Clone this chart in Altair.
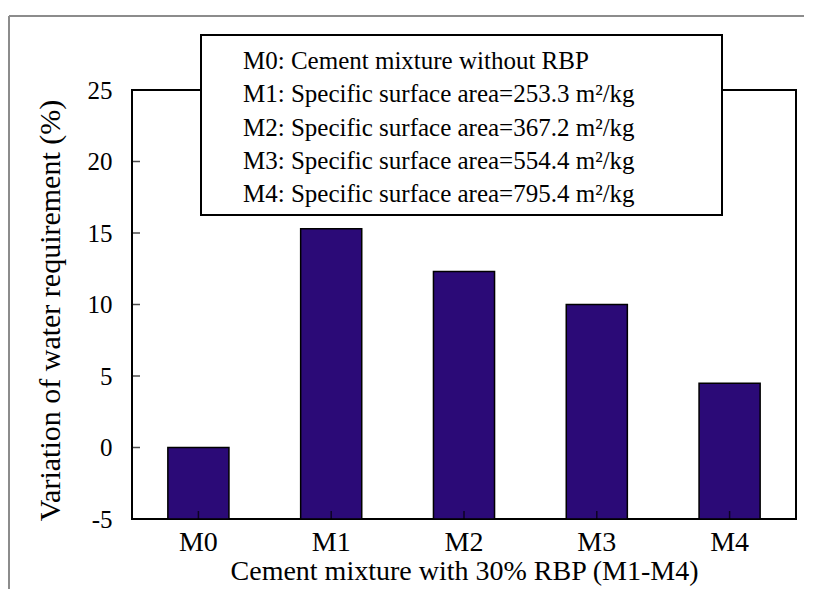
import altair as alt
import pandas as pd

categories = ["M0", "M1", "M2", "M3", "M4"]
values = [0.0, 15.3, 12.3, 10.0, 4.5]
baseline = -5
y_ticks = [-5, 0, 5, 10, 15, 20, 25]
legend_lines = [
    "M0: Cement mixture without RBP",
    "M1: Specific surface area=253.3 m\u00b2/kg",
    "M2: Specific surface area=367.2 m\u00b2/kg",
    "M3: Specific surface area=554.4 m\u00b2/kg",
    "M4: Specific surface area=795.4 m\u00b2/kg",
]
x_title = "Cement mixture with 30% RBP (M1-M4)"
y_title = "Variation of water requirement (%)"

W, H = 664, 429
FONT = "'Liberation Serif', 'Times New Roman', serif"

bars_df = pd.DataFrame({"mix": categories, "value": values, "base": [baseline] * len(categories)})
yt_df = pd.DataFrame({"t": y_ticks})
leg_df = pd.DataFrame({"row": list(range(len(legend_lines))), "line": legend_lines})
one = pd.DataFrame({"a": [0]})

xscale = alt.Scale(domain=categories, paddingInner=0.54, paddingOuter=0.27)
yscale = alt.Scale(domain=[-5, 25], nice=False, zero=False)

bars = alt.Chart(bars_df).mark_bar(color="#2b0a77", stroke="black", strokeWidth=1.5).encode(
    x=alt.X("mix:N", scale=xscale, sort=categories,
            axis=alt.Axis(title=x_title, labelAngle=0, labelPadding=9, titlePadding=1,
                          labelFontSize=28, titleFontSize=28)),
    y=alt.Y("value:Q", scale=yscale,
            axis=alt.Axis(values=y_ticks, title=y_title, labelPadding=20, titlePadding=22,
                          labelFontSize=25, titleFontSize=30, titleY=220,
                          labelExpr="'' + datum.value")),
    y2="base:Q",
)

xticks = alt.Chart(bars_df).mark_tick(orient="vertical", color="black", thickness=1.5, size=8).encode(
    x=alt.X("mix:N", scale=xscale, sort=categories),
    y=alt.value(H - 4),
)

yticks = alt.Chart(yt_df).mark_tick(orient="horizontal", color="black", thickness=1.5, size=8).encode(
    y=alt.Y("t:Q", scale=yscale, axis=None),
    x=alt.value(4),
)

box = alt.Chart(one).mark_rect(fill="white", stroke="black", strokeWidth=2).encode(
    x=alt.value(69), x2=alt.value(590), y=alt.value(-55), y2=alt.value(125)
)

legend_text = alt.Chart(leg_df).mark_text(
    align="left", baseline="middle", font=FONT, fontSize=25, color="black"
).encode(
    x=alt.value(111),
    y=alt.Y("row:Q", scale=alt.Scale(domain=[0, 4], range=[-29, 104]), axis=None),
    text="line:N",
)

top_border = alt.Chart(one).mark_rule(color="#8c8c8c", strokeWidth=2).encode(
    x=alt.value(-123), x2=alt.value(W + 8), y=alt.value(-74)
)
left_border = alt.Chart(one).mark_rule(color="#8c8c8c", strokeWidth=2).encode(
    x=alt.value(-123), y=alt.value(-74), y2=alt.value(H + 90)
)

chart = alt.layer(
    top_border, left_border, bars, xticks, yticks, box, legend_text
).resolve_scale(y="independent").properties(
    width=W, height=H,
    autosize=alt.AutoSizeParams(type="none"),
    padding={"left": 124, "top": 82, "right": 10, "bottom": 70},
).configure_view(
    stroke="black", strokeWidth=2
).configure_axis(
    labelFont=FONT, labelColor="black",
    titleFont=FONT, titleFontWeight="normal", titleColor="black",
    ticks=False, domain=False, grid=False,
)

chart.save("out.html", embed_options={"renderer": "svg", "actions": False})
